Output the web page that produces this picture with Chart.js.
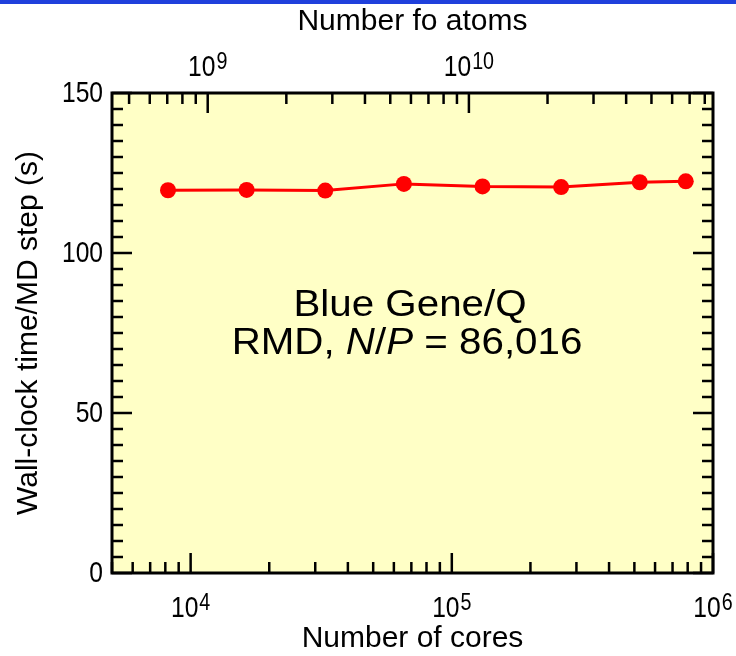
<!DOCTYPE html>
<html>
<head>
<meta charset="utf-8">
<script src="https://cdn.jsdelivr.net/npm/chart.js@4/dist/chart.umd.min.js"></script>
<style>
  html, body { margin: 0; padding: 0; background: #ffffff; }
  #wrap { width: 736px; height: 656px; position: relative; }
</style>
</head>
<body>
<div id="wrap"><canvas id="c"></canvas></div>
<script>
// ---- data ----
const cores = [8192, 16384, 32768, 65536, 131072, 262144, 524288, 786432];
const wallTime = [119.6, 119.7, 119.5, 121.6, 120.8, 120.6, 122.1, 122.4];
const atomsPerCore = 86016;
const coreMajorTicks = [1e4, 1e5, 1e6];
const coreTickExps = ['4', '5', '6'];
const atomMajorTicks = [1e9, 1e10];
const atomTickExps = ['9', '10'];
const yMajorTicks = [0, 50, 100, 150];
const yTickLabels = ['0', '50', '100', '150'];
const xTitle = 'Number of cores';
const x2Title = 'Number fo atoms';
const yTitle = 'Wall-clock time/MD step (s)';
const noteLine1 = 'Blue Gene/Q';

const FONT = "'Liberation Sans', Arial, Helvetica, sans-serif";
const xMin = 5000, xMax = 1e6;
const TICK_SX = 0.82;   // horizontal squeeze of tick label glyphs
const NOTE_SX = 1.12;   // horizontal stretch of annotation glyphs

function minorLog(min, max) {
  const out = [];
  for (let e = Math.floor(Math.log10(min)); e <= Math.ceil(Math.log10(max)); e++) {
    for (let m = 1; m <= 9; m++) {
      const v = m * Math.pow(10, e);
      if (v >= min && v <= max) out.push(v);
    }
  }
  return out;
}

// draw text at (x,y) with horizontal scale sx; align relative to scaled width
function sText(ctx, txt, x, y, font, align, sx) {
  ctx.font = font;
  const w = ctx.measureText(txt).width * sx;
  let left = x;
  if (align === 'center') left = x - w / 2;
  else if (align === 'right') left = x - w;
  ctx.save();
  ctx.translate(left, y);
  ctx.scale(sx, 1);
  ctx.textAlign = 'left';
  ctx.textBaseline = 'middle';
  ctx.fillText(txt, 0, 0);
  ctx.restore();
  return w;
}

function drawPow(ctx, base, exp, cx, cy, size) {
  const supSize = Math.round(size * 0.8);
  const fb = size + 'px ' + FONT, fe = supSize + 'px ' + FONT;
  ctx.font = fb;
  const wb = ctx.measureText(base).width * TICK_SX;
  ctx.font = fe;
  const we = ctx.measureText(exp).width * TICK_SX;
  const x0 = cx - (wb + we + 1) / 2;
  sText(ctx, base, x0, cy, fb, 'left', TICK_SX);
  sText(ctx, exp, x0 + wb + 1, cy - size * 0.2, fe, 'left', TICK_SX);
}

const decor = {
  id: 'decor',
  beforeDraw(chart) {
    const ctx = chart.ctx, a = chart.chartArea;
    ctx.save();
    ctx.fillStyle = '#1f40dc';
    ctx.fillRect(0, 0, chart.width, 4);
    ctx.fillStyle = '#ffffc6';
    ctx.fillRect(a.left, a.top, a.right - a.left, a.bottom - a.top);
    ctx.restore();
  },
  afterDraw(chart) {
    const ctx = chart.ctx, a = chart.chartArea;
    const sx = chart.scales.x, sx2 = chart.scales.x2, sy = chart.scales.y;
    ctx.save();
    ctx.strokeStyle = '#000';
    ctx.fillStyle = '#000';
    // ticks
    ctx.lineWidth = 2.5;
    ctx.lineCap = 'butt';
    const MAJ = 20, MIN = 11;
    const hTick = (x, top, len) => {
      ctx.beginPath();
      if (top) { ctx.moveTo(x, a.top); ctx.lineTo(x, a.top + len); }
      else { ctx.moveTo(x, a.bottom); ctx.lineTo(x, a.bottom - len); }
      ctx.stroke();
    };
    const vTick = (y, len) => {
      ctx.beginPath();
      ctx.moveTo(a.left, y); ctx.lineTo(a.left + len, y);
      ctx.moveTo(a.right, y); ctx.lineTo(a.right - len, y);
      ctx.stroke();
    };
    minorLog(xMin, xMax).forEach(v => {
      const major = coreMajorTicks.includes(v);
      hTick(sx.getPixelForValue(v), false, major ? MAJ : MIN);
    });
    minorLog(xMin * atomsPerCore, xMax * atomsPerCore).forEach(v => {
      const major = atomMajorTicks.includes(v);
      hTick(sx2.getPixelForValue(v), true, major ? MAJ : MIN);
    });
    for (let v = 0; v <= 150; v += 5) {
      const major = v % 50 === 0;
      vTick(sy.getPixelForValue(v), major ? MAJ : MIN);
    }
    // frame
    ctx.lineWidth = 3;
    ctx.strokeRect(a.left, a.top, a.right - a.left, a.bottom - a.top);

    // tick labels
    coreMajorTicks.forEach((v, i) => drawPow(ctx, '10', coreTickExps[i], sx.getPixelForValue(v), 609, 30));
    atomMajorTicks.forEach((v, i) => drawPow(ctx, '10', atomTickExps[i], sx2.getPixelForValue(v), 68, 30));
    yMajorTicks.forEach((v, i) => sText(ctx, yTickLabels[i], a.left - 9, sy.getPixelForValue(v) + 1, '30px ' + FONT, 'right', TICK_SX));

    // titles
    const cx = (a.left + a.right) / 2;
    ctx.textAlign = 'center';
    ctx.textBaseline = 'middle';
    ctx.font = '30px ' + FONT;
    ctx.fillText(xTitle, cx, 639);
    ctx.fillText(x2Title, cx, 22);
    ctx.save();
    ctx.translate(29, (a.top + a.bottom) / 2);
    ctx.rotate(-Math.PI / 2);
    ctx.fillText(yTitle, 0, 0);
    ctx.restore();

    // annotation
    const size = 36;
    const fN = size + 'px ' + FONT, fI = 'italic ' + size + 'px ' + FONT;
    sText(ctx, noteLine1, 410, 306, fN, 'center', NOTE_SX);
    const segs = [['RMD, ', false], ['N', true], ['/', false], ['P', true], [' = 86,016', false]];
    let total = 0;
    segs.forEach(s => { ctx.font = s[1] ? fI : fN; total += ctx.measureText(s[0]).width * NOTE_SX; });
    let x = 407 - total / 2;
    segs.forEach(s => { x += sText(ctx, s[0], x, 344, s[1] ? fI : fN, 'left', NOTE_SX); });
    ctx.restore();
  }
};

new Chart(document.getElementById('c'), {
  type: 'line',
  data: {
    datasets: [{
      data: cores.map((c, i) => ({ x: c, y: wallTime[i] })),
      borderColor: '#ff0000',
      backgroundColor: '#ff0000',
      borderWidth: 3,
      pointRadius: 8,
      pointBorderWidth: 0,
      pointBackgroundColor: '#ff0000',
      tension: 0,
      fill: false
    }]
  },
  options: {
    responsive: true,
    maintainAspectRatio: false,
    animation: false,
    devicePixelRatio: 1,
    layout: { padding: { left: 112, top: 93, right: 23, bottom: 83 } },
    plugins: { legend: { display: false }, tooltip: { enabled: false } },
    scales: {
      x: { type: 'logarithmic', min: xMin, max: xMax, display: false },
      x2: { type: 'logarithmic', position: 'top', min: xMin * atomsPerCore, max: xMax * atomsPerCore, display: false },
      y: { type: 'linear', min: 0, max: 150, display: false }
    }
  },
  plugins: [decor]
});
</script>
</body>
</html>
